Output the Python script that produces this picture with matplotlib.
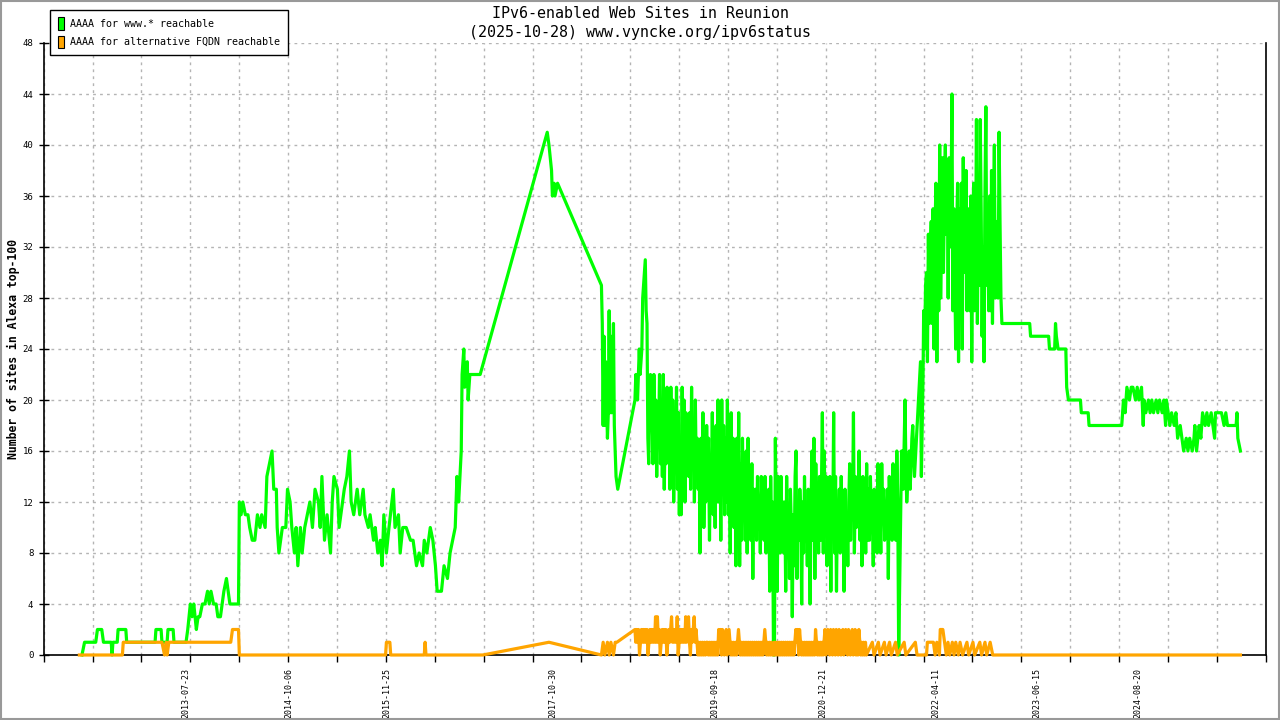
import numpy as np
import pandas as pd
import matplotlib
matplotlib.use("Agg")
import matplotlib.pyplot as plt
from matplotlib.patches import Patch, Rectangle

plt.rcParams['font.family'] = ['DejaVu Sans Mono']

# ------------------------------------------------------------------
# data (x = decimal year, y = number of sites)
# ------------------------------------------------------------------
# www.* : sparse part before the dense 2019-2021 stretch
GREEN_T_A = [
    2012.35, 2012.38, 2012.51, 2012.53, 2012.58, 2012.60, 2012.69, 2012.70, 2012.71, 2012.76,
    2012.77, 2012.86, 2012.87, 2013.20, 2013.21, 2013.27, 2013.28, 2013.34, 2013.35, 2013.41,
    2013.42, 2013.56, 2013.58, 2013.61, 2013.63, 2013.65, 2013.68, 2013.70, 2013.72, 2013.75,
    2013.78, 2013.81, 2013.83, 2013.85, 2013.88, 2013.91, 2013.93, 2013.96, 2013.98, 2014.00,
    2014.03, 2014.05, 2014.07, 2014.17, 2014.18, 2014.20, 2014.22, 2014.25, 2014.28, 2014.30,
    2014.33, 2014.36, 2014.39, 2014.42, 2014.44, 2014.48, 2014.50, 2014.53, 2014.56, 2014.58,
    2014.61, 2014.62, 2014.64, 2014.68, 2014.72, 2014.74, 2014.77, 2014.79, 2014.82, 2014.84,
    2014.86, 2014.89, 2014.91, 2014.94, 2014.97, 2015.00, 2015.03, 2015.06, 2015.10, 2015.12,
    2015.14, 2015.17, 2015.20, 2015.24, 2015.26, 2015.28, 2015.32, 2015.34, 2015.38, 2015.40,
    2015.43, 2015.46, 2015.48, 2015.51, 2015.55, 2015.58, 2015.62, 2015.64, 2015.68, 2015.70,
    2015.74, 2015.76, 2015.79, 2015.82, 2015.84, 2015.86, 2015.89, 2015.92, 2015.97, 2015.99,
    2016.03, 2016.05, 2016.08, 2016.12, 2016.17, 2016.20, 2016.24, 2016.27, 2016.31, 2016.33,
    2016.36, 2016.40, 2016.43, 2016.46, 2016.48, 2016.53, 2016.56, 2016.60, 2016.63, 2016.66,
    2016.69, 2016.71, 2016.73, 2016.76, 2016.77, 2016.79, 2016.80, 2016.83, 2016.84, 2016.86,
    2016.98, 2017.76, 2017.78, 2017.81, 2017.82, 2017.84, 2017.85, 2017.88, 2018.39, 2018.40,
    2018.41, 2018.42, 2018.43, 2018.44, 2018.46, 2018.47, 2018.48, 2018.49, 2018.50, 2018.51,
    2018.53, 2018.54, 2018.55, 2018.56, 2018.58, 2018.78, 2018.79, 2018.81, 2018.83, 2018.84,
    2018.86, 2018.87, 2018.90, 2018.91, 2018.92, 2018.93, 2018.94, 2018.96,
]
GREEN_V_A = [
    0, 1, 1, 2, 2, 1, 1, 0, 1, 1,
    2, 2, 1, 1, 2, 2, 1, 1, 2, 2,
    1, 1, 2, 4, 3, 4, 2, 3, 3, 4,
    4, 5, 4, 5, 4, 4, 3, 3, 4, 5,
    6, 5, 4, 4, 12, 11, 12, 11, 11, 10,
    9, 9, 11, 10, 11, 10, 14, 15, 16, 13,
    13, 10, 8, 10, 10, 13, 12, 10, 8, 10,
    7, 10, 8, 10, 11, 12, 10, 13, 12, 10,
    14, 9, 11, 8, 12, 14, 13, 10, 12, 13,
    14, 16, 12, 11, 13, 11, 13, 11, 10, 11,
    9, 10, 8, 9, 7, 11, 8, 10, 13, 10,
    11, 8, 10, 10, 9, 9, 7, 8, 7, 9,
    8, 10, 9, 7, 5, 5, 7, 6, 8, 9,
    10, 14, 12, 16, 22, 24, 21, 23, 20, 22,
    22, 41, 40, 38, 36, 37, 36, 37, 29, 26,
    18, 25, 18, 23, 17, 19, 27, 19, 25, 19,
    26, 18, 16, 14, 13, 20, 22, 20, 24, 22,
    24, 28, 31, 27, 26, 17, 15, 22,
]

# www.* : dense stretch, one reading every 4 days from 2018-12-24
GREEN_DENSE_START = '2018-12-24'
GREEN_DENSE_V = [
    21, 15, 22, 16, 20, 14, 19, 17, 22, 15,
    20, 14, 22, 13, 18, 15, 21, 16, 19, 13,
    21, 14, 20, 12, 17, 15, 21, 13, 19, 11,
    17, 11, 21, 13, 20, 12, 19, 15, 18, 14,
    19, 13, 21, 15, 18, 12, 20, 14, 17, 13,
    16, 8, 17, 11, 19, 10, 15, 12, 18, 13,
    17, 9, 15, 12, 19, 11, 16, 10, 18, 12,
    20, 12, 19, 9, 20, 13, 18, 11, 17, 12,
    20, 11, 15, 8, 19, 12, 17, 10, 16, 7,
    17, 10, 19, 7, 15, 9, 17, 11, 14, 9,
    16, 8, 17, 10, 14, 9, 15, 6, 13, 10,
    13, 9, 14, 10, 12, 8, 14, 11, 13, 9,
    14, 8, 12, 10, 13, 5, 14, 9, 12, 0,
    0, 17, 9, 5, 14, 11, 8, 14, 10, 12,
    8, 12, 5, 14, 9, 11, 6, 13, 10, 3,
    11, 7, 14, 16, 6, 12, 9, 13, 11, 4,
    12, 8, 14, 9, 11, 7, 13, 10, 4, 12,
    16, 9, 17, 6, 15, 10, 12, 8, 14, 9,
    13, 19, 8, 16, 10, 14, 7, 12, 9, 14,
    5, 13, 10, 19, 8, 14, 5, 12, 10, 13,
    8, 14, 10, 12, 5, 13, 9, 11, 7, 12,
    15, 9, 13, 11, 19, 8, 14, 10, 12, 11,
    16, 9, 13, 7, 14, 10, 12, 8, 15, 9,
    13, 9, 14, 10, 12, 7, 13, 9, 11, 8,
    15, 10, 12, 8, 15, 11, 13, 9, 12, 10,
    13, 6, 14, 10, 12, 9, 15, 11, 13, 9,
    16, 12, 0,
]

# www.* : climb towards the 2022 peak
GREEN_T_B = [
    2021.88, 2021.89, 2021.90, 2021.92, 2021.93, 2021.94, 2021.97, 2021.98, 2022.00, 2022.01,
    2022.03, 2022.10, 2022.11, 2022.13,
]
GREEN_V_B = [
    16, 16, 13, 20, 15, 12, 16, 13, 17, 18,
    14, 23, 14, 22,
]

# www.* : 2022 peak, one reading every 4 days from 2022-02-20
GREEN_PEAK_START = '2022-02-20'
GREEN_PEAK_V = [
    27, 24, 29, 30, 23, 33, 26, 31, 34, 26,
    35, 24, 33, 37, 23, 36, 27, 40, 28, 33,
    39, 30, 36, 40, 33, 38, 28, 39, 32, 35,
    44, 27, 35, 30, 24, 33, 37, 23, 35, 28,
    37, 24, 39, 30, 33, 38, 27, 35, 30, 27,
    36, 23, 33, 37, 27, 30, 42, 26, 35, 29,
    42, 35, 25, 32, 23, 36, 43, 29, 33, 27,
    36, 27, 38, 26, 33, 40, 28, 34, 30, 28,
    41, 34, 28, 26,
]

# www.* : after the peak
GREEN_T_C = [
    2023.08, 2023.37, 2023.38, 2023.59, 2023.60, 2023.66, 2023.67, 2023.68, 2023.70, 2023.79,
    2023.80, 2023.82, 2023.96, 2023.97, 2024.05, 2024.06, 2024.44, 2024.46, 2024.48, 2024.50,
    2024.53, 2024.55, 2024.57, 2024.60, 2024.62, 2024.64, 2024.67, 2024.69, 2024.70, 2024.72,
    2024.75, 2024.77, 2024.79, 2024.81, 2024.84, 2024.86, 2024.88, 2024.91, 2024.93, 2024.95,
    2024.96, 2024.98, 2025.00, 2025.02, 2025.05, 2025.07, 2025.09, 2025.12, 2025.14, 2025.16,
    2025.19, 2025.21, 2025.23, 2025.26, 2025.28, 2025.29, 2025.31, 2025.34, 2025.36, 2025.38,
    2025.41, 2025.43, 2025.45, 2025.48, 2025.50, 2025.52, 2025.53, 2025.56, 2025.60, 2025.63,
    2025.65, 2025.67, 2025.77, 2025.78, 2025.79, 2025.82,
]
GREEN_V_C = [
    26, 26, 25, 25, 24, 24, 26, 25, 24, 24,
    21, 20, 20, 19, 19, 18, 18, 20, 19, 21,
    20, 21, 21, 20, 21, 20, 21, 18, 20, 19,
    20, 19, 20, 19, 20, 19, 20, 19, 20, 18,
    20, 19, 18, 19, 18, 19, 17, 18, 17, 16,
    17, 16, 17, 16, 17, 18, 16, 18, 17, 19,
    18, 19, 18, 19, 18, 17, 19, 19, 19, 18,
    19, 18, 18, 19, 17, 16,
]

# alternative FQDN
ORANGE_T_A = [
    2012.32, 2012.82, 2012.83, 2013.28, 2013.31, 2013.33, 2013.34, 2013.36, 2014.08, 2014.10,
    2014.17, 2014.18, 2015.88, 2015.89, 2015.93, 2015.94, 2016.33, 2016.34, 2016.35, 2017.01,
    2017.78, 2018.39, 2018.41, 2018.43, 2018.46, 2018.48, 2018.50, 2018.53, 2018.55, 2018.57,
    2018.78,
]
ORANGE_V_A = [
    0, 0, 1, 1, 0, 1, 0, 1, 1, 2,
    2, 0, 0, 1, 1, 0, 0, 1, 0, 0,
    1, 0, 1, 0, 1, 0, 1, 0, 1, 1,
    2,
]

ORANGE_DENSE_START = '2018-10-16'
ORANGE_DENSE_V = [
    1, 2, 1, 2, 0, 1, 2, 1, 2, 1,
    2, 1, 2, 0, 1, 2, 1, 2, 1, 2,
    1, 3, 1, 3, 1, 2, 0, 1, 2, 1,
    2, 1, 2, 0, 1, 2, 1, 2, 3, 1,
    2, 1, 2, 1, 3, 0, 1, 2, 1, 2,
    1, 2, 1, 3, 1, 2, 3, 1, 0, 2,
    1, 2, 3, 1, 2, 1, 0, 1, 0, 1,
    0, 1, 0, 1, 0, 1, 1, 0, 1, 0,
    1, 0, 1, 0, 1, 0, 1, 0, 2, 1,
    2, 0, 2, 1, 0, 1, 2, 0, 1, 2,
    1, 0, 1, 0, 1, 0, 1, 0, 1, 2,
    1, 0, 1, 0, 1, 0, 1, 0, 1, 0,
    1, 0, 1, 0, 1, 0, 1, 0, 1, 0,
    1, 0, 1, 0, 1, 0, 1, 2, 1, 0,
    1, 0, 1, 0, 1, 0, 0, 1, 0, 1,
    0, 1, 0, 1, 0, 1, 0, 1, 0, 1,
    0, 1, 0, 1, 0, 1, 0, 1, 0, 1,
    2, 1, 2, 0, 2, 1, 0, 1, 0, 1,
    0, 1, 0, 1, 0, 1, 0, 1, 0, 1,
    0, 2, 1, 0, 1, 0, 1, 0, 1, 0,
    1, 2, 0, 1, 2, 1, 0, 2, 1, 0,
    2, 1, 0, 2, 1, 0, 2, 1, 0, 1,
    2, 0, 1, 2, 1, 0, 2, 1, 0, 1,
    2, 0, 1, 2, 0, 1, 0, 2, 1, 0,
    1, 0, 1, 0, 1, 0,
]

ORANGE_T_B = [
    2021.54, 2021.56, 2021.61, 2021.63, 2021.68, 2021.70, 2021.74, 2021.76, 2021.81, 2021.83,
    2021.91, 2021.93, 2022.04, 2022.06, 2022.17, 2022.18, 2022.25, 2022.27, 2022.29, 2022.32,
    2022.33, 2022.36, 2022.38, 2022.40, 2022.42, 2022.44, 2022.47, 2022.49, 2022.51, 2022.54,
    2022.56, 2022.59, 2022.64, 2022.66, 2022.71, 2022.73, 2022.79, 2022.81, 2022.85, 2022.87,
    2022.91, 2022.94, 2025.82,
]
ORANGE_V_B = [
    1, 0, 1, 0, 1, 0, 1, 0, 1, 0,
    1, 0, 1, 0, 0, 1, 1, 0, 1, 0,
    2, 2, 1, 0, 1, 0, 1, 0, 1, 0,
    1, 0, 1, 0, 1, 0, 1, 0, 1, 0,
    1, 0, 0,
]

LABEL_DATES = ['2013-07-23', '2014-10-06', '2015-11-25', '2017-10-30', '2019-09-18',
               '2020-12-21', '2022-04-11', '2023-06-15', '2024-08-20']

X_START = 2011.905
X_END = 2026.114
Y_TICKS = list(range(0, 49, 4))

TITLE = "IPv6-enabled Web Sites in Reunion\n(2025-10-28) www.vyncke.org/ipv6status"
Y_LABEL = "Number of sites in Alexa top-100"
SERIES_NAMES = ["AAAA for www.* reachable", "AAAA for alternative FQDN reachable"]
GREEN = '#00ff00'
ORANGE = '#ffa500'


def dec_year(dates):
    ts = pd.DatetimeIndex(pd.to_datetime(dates))
    days = np.where(ts.is_leap_year, 366.0, 365.0)
    return np.asarray(ts.year + (ts.dayofyear - 1) / days, dtype=float)


def dense_years(start, n):
    return dec_year(pd.date_range(start, periods=n, freq='4D'))


green_t = np.concatenate([GREEN_T_A,
                          dense_years(GREEN_DENSE_START, len(GREEN_DENSE_V)),
                          GREEN_T_B,
                          dense_years(GREEN_PEAK_START, len(GREEN_PEAK_V)),
                          GREEN_T_C])
green_v = np.concatenate([GREEN_V_A, GREEN_DENSE_V, GREEN_V_B, GREEN_PEAK_V, GREEN_V_C])
orange_t = np.concatenate([ORANGE_T_A,
                           dense_years(ORANGE_DENSE_START, len(ORANGE_DENSE_V)),
                           ORANGE_T_B])
orange_v = np.concatenate([ORANGE_V_A, ORANGE_DENSE_V, ORANGE_V_B])

# ======================================================= #
fig = plt.figure(figsize=(12.8, 7.2), dpi=100)
ax = fig.add_axes([43.7 / 1280, 65 / 720, 1222 / 1280, 612 / 720])

# lines sit on top of the axis line, like gnuplot draws them
ax.plot(green_t, green_v, color=GREEN, lw=2.3, zorder=3, clip_on=False)
ax.plot(orange_t, orange_v, color=ORANGE, lw=2.3, zorder=3.1, clip_on=False)

ax.set_xlim(X_START, X_END)
ax.set_ylim(0, 48)

# grid ticks (unlabelled) and date labels
ax.set_xticks(np.linspace(X_START, X_END, 26), minor=True)
ax.set_xticks(dec_year(LABEL_DATES))
ax.set_xticklabels(LABEL_DATES, rotation=90, fontsize=6)
ax.tick_params(axis='x', which='major', length=0, pad=9)
ax.tick_params(axis='x', which='minor', direction='out', length=5, width=1)
ax.set_yticks(Y_TICKS)
ax.set_yticklabels([str(v) for v in Y_TICKS], fontsize=6.5)
ax.tick_params(axis='y', direction='inout', length=7, width=1, pad=4)

dots = (0, (2, 3))
ax.grid(True, which='minor', axis='x', color='#b4b4b4', ls=dots, lw=1)
ax.grid(True, which='major', axis='y', color='#b4b4b4', ls=dots, lw=1)
ax.set_axisbelow(True)

ax.spines['top'].set_visible(False)
for s in ['left', 'bottom', 'right']:
    ax.spines[s].set_linewidth(1.2)
    ax.spines[s].set_color('black')

ax.set_ylabel(Y_LABEL, fontsize=8.3, fontweight='bold')
ax.yaxis.set_label_coords(-0.0195, 0.5)

fig.text(0.5, 1 - 23 / 720, TITLE, ha='center', va='center', fontsize=10.8,
         linespacing=1.4)

handles = [Patch(facecolor=GREEN, edgecolor='black', lw=0.8),
           Patch(facecolor=ORANGE, edgecolor='black', lw=0.8)]
leg = fig.legend(handles, SERIES_NAMES, loc='upper left',
                 bbox_to_anchor=(50 / 1280, 1 - 10 / 720), fontsize=7.2,
                 handlelength=0.65, handleheight=1.5, handletextpad=0.6,
                 borderpad=0.75, labelspacing=0.6, fancybox=False,
                 borderaxespad=0, framealpha=1)
leg.get_frame().set_edgecolor('black')
leg.get_frame().set_linewidth(1)

# grey outer border
fig.patches.append(Rectangle((0.0005, 0.001), 0.999, 0.998, transform=fig.transFigure,
                             fill=False, edgecolor='#999999', lw=1.5))

fig.savefig('out.png', dpi=100)
